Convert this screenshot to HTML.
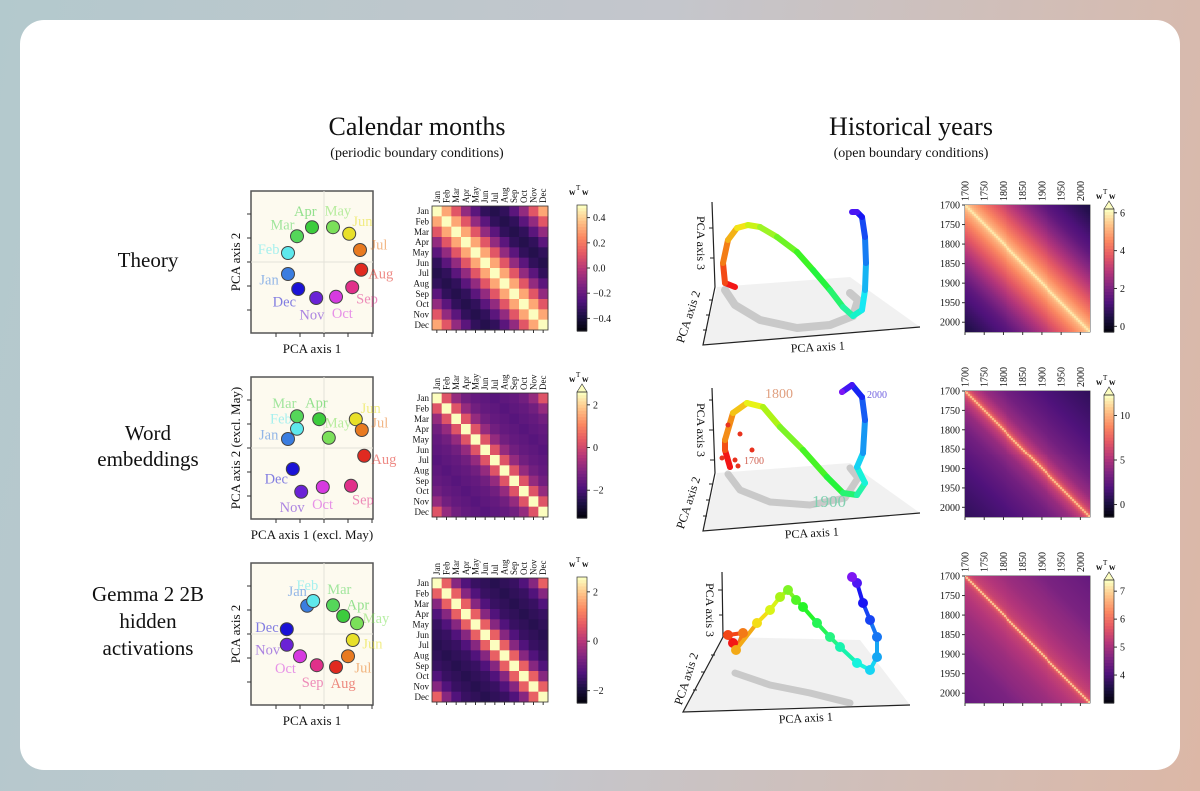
<!DOCTYPE html>
<html><head><meta charset="utf-8">
<style>
html,body{margin:0;padding:0;}
body{width:1200px;height:791px;overflow:hidden;background:linear-gradient(100deg,#b3c9cd 0%,#c4c6cc 50%,#dcb7a6 100%);position:relative;font-family:"Liberation Serif",serif;}
#card{position:absolute;left:20px;top:20px;width:1160px;height:750px;background:#fff;border-radius:24px;}
svg{position:absolute;left:0;top:0;}
canvas{position:absolute;}
</style></head>
<body>
<div id="card"></div>
<svg id="fig" width="1200" height="791" font-family="Liberation Serif, serif"></svg>
<canvas id="yh0" width="125" height="127" style="left:965px;top:205px"></canvas>
<canvas id="yh1" width="125" height="126" style="left:965px;top:391px"></canvas>
<canvas id="yh2" width="125" height="127" style="left:965px;top:576px"></canvas>
<script>
// ---------- DATA ----------
const months = ["Jan","Feb","Mar","Apr","May","Jun","Jul","Aug","Sep","Oct","Nov","Dec"];
const monthColors = ["#3a7de0","#5ee8ec","#55d65a","#3dcc3d","#7be05a","#e8e02a","#e87a20","#e02a20","#e0308a","#d63ae0","#6a22d6","#1a12d6"];
const theoryX = [-0.60,-0.60,-0.45,-0.20,0.15,0.42,0.60,0.62,0.47,0.20,-0.13,-0.43];
const theoryY = [-0.20,0.15,0.43,0.58,0.58,0.47,0.20,-0.13,-0.42,-0.58,-0.60,-0.45];
const embedX = [-0.60,-0.45,-0.45,-0.08,0.08,0.53,0.63,0.67,0.45,-0.02,-0.38,-0.52];
const embedY = [0.15,0.32,0.53,0.48,0.17,0.48,0.30,-0.13,-0.63,-0.65,-0.73,-0.35];
const gemmaX = [-0.28,-0.18,0.15,0.32,0.55,0.48,0.40,0.20,-0.12,-0.40,-0.62,-0.62];
const gemmaY = [0.47,0.55,0.48,0.30,0.18,-0.10,-0.37,-0.55,-0.52,-0.37,-0.18,0.08];
const theoryLag = [0.5,0.32,0.12,-0.08,-0.22,-0.32,-0.35];
const embedLag = [2.9,0.3,-0.8,-1.3,-1.5,-1.6,-1.7];
const gemmaLag = [2.8,0.8,-0.5,-1.2,-1.5,-1.6,-1.7];
const yearLagX = [0,5,10,20,50,100,150,200,300,330];
const yearTheory = [6,5.6,5.3,5.0,4.3,3.3,2.4,1.6,0.7,0.5];
const yearEmbed = [11,8,7,6,4.5,3.3,2.6,2.0,1.2,1.0];
const yearGemma = [7.1,5.9,5.6,5.4,5.2,4.95,4.8,4.6,4.4,4.3];
const yearTicks = [1700,1750,1800,1850,1900,1950,2000];
const traj1X = [5.5,4.5,4.3,4.8,5.7,6.8,8.0,9.7,11.7,13.3,15.0,16.3,17.3,18.2,18.5,18.6,18.5,18.2,17.7,17.2];
const traj1Y = [6.3,6.7,8.7,11.0,12.2,12.5,12.3,11.3,9.8,8.0,6.0,4.3,3.4,4.0,6.0,8.7,11.3,13.3,13.8,13.8];
const shadow1X = [4.5,5.5,8,11.7,15,17.3,17.8,17];
const shadow1Y = [6.0,4.5,3,2.2,2.5,3.4,5,5.7];
const traj2X = [5.0,4.5,4.5,5.3,6.7,8.3,10.0,12.3,14.7,16.3,17.7,18.5,17.7,18.3,18.5,18.2,17.2,16.2];
const traj2Y = [6.9,8.6,9.6,12.3,13.3,12.9,10.9,8.6,5.9,4.3,4.1,5.3,6.9,8.3,11.6,13.9,15.1,14.4];
const extra2X = [6,7.2,5.5,4.8,5.8,4.2];
const extra2Y = [10.2,8.6,7.6,11.1,7.0,7.8];
const shadow2X = [4.8,6,9,13,16.5,17.8,17];
const shadow2Y = [6.2,4.6,3.4,3.1,3.8,5.8,6.8];
const traj3X = [5.3,4.8,6.3,5.6,7.7,9.0,10.0,10.8,11.6,12.3,13.7,15.0,16.0,17.7,19.0,19.7,19.7,19.0,18.3,17.7,17.2];
const traj3Y = [7.7,8.5,8.7,7.0,9.7,11.0,12.3,13.0,12.0,11.3,9.7,8.3,7.3,5.7,5.0,6.3,8.3,10.0,11.7,13.7,14.3];
const shadow3X = [5.5,9,13,17];
const shadow3Y = [4.7,3.5,2.7,1.7];

// ---------- HELPERS ----------
const NS="http://www.w3.org/2000/svg";
const svg=document.getElementById('fig');
function el(tag,attrs,parent){const e=document.createElementNS(NS,tag);for(const k in attrs)e.setAttribute(k,attrs[k]);(parent||svg).appendChild(e);return e;}
function txt(x,y,s,size,attrs,parent){const t=el('text',Object.assign({x:x,y:y,'font-size':size,fill:'#111'},attrs||{}),parent);t.textContent=s;return t;}
const magmaStops=[[0,[0,0,4]],[0.13,[28,16,68]],[0.25,[79,18,123]],[0.38,[129,37,129]],[0.5,[181,54,122]],[0.63,[229,89,100]],[0.75,[251,135,97]],[0.88,[254,194,135]],[1,[252,253,191]]];
function magma(t){t=Math.max(0,Math.min(1,t));for(let i=1;i<magmaStops.length;i++){if(t<=magmaStops[i][0]){const a=magmaStops[i-1],b=magmaStops[i];const f=(t-a[0])/(b[0]-a[0]);const c=a[1].map((v,k)=>Math.round(v+(b[1][k]-v)*f));return `rgb(${c[0]},${c[1]},${c[2]})`;}}return 'rgb(252,253,191)';}
function lerpLag(xs,ys,l){for(let i=1;i<xs.length;i++){if(l<=xs[i]){const f=(l-xs[i-1])/(xs[i]-xs[i-1]);return ys[i-1]+(ys[i]-ys[i-1])*f;}}return ys[ys.length-1];}
function rainbow(f){return `hsl(${Math.round(f*268)},90%,${f>0.3&&f<0.6?55:52}%)`;}

// ---------- TITLES ----------
const g0=el('g',{});  
txt(417,135,'Calendar months',26,{'text-anchor':'middle'},g0);
txt(417,157,'(periodic boundary conditions)',14,{'text-anchor':'middle'},g0);
txt(911,135,'Historical years',26,{'text-anchor':'middle'},g0);
txt(911,157,'(open boundary conditions)',14,{'text-anchor':'middle'},g0);
const rl=el('g',{});  
txt(148,267,'Theory',21,{'text-anchor':'middle'},rl);
txt(148,440,'Word',21,{'text-anchor':'middle'},rl);
txt(148,466,'embeddings',21,{'text-anchor':'middle'},rl);
txt(148,601,'Gemma 2 2B',21,{'text-anchor':'middle'},rl);
txt(148,628,'hidden',21,{'text-anchor':'middle'},rl);
txt(148,655,'activations',21,{'text-anchor':'middle'},rl);

// ---------- PCA SCATTERS ----------
function scatter(top,xs,ys,name,xl,yl){
  const g=el('g',{});  
  const L=251,R=373,T=top,B=top+142, gx=324, gy=top+71;
  const sx=v=>gx+v*60, sy=v=>gy-v*60;
  el('rect',{x:L,y:T,width:R-L,height:B-T,fill:'#fdfaef',stroke:'#555','stroke-width':1.5},g);
  el('line',{x1:gx,y1:T,x2:gx,y2:B,stroke:'#e4e2d8','stroke-width':1},g);
  el('line',{x1:L,y1:gy,x2:R,y2:gy,stroke:'#e4e2d8','stroke-width':1},g);
  for(let k=-2;k<=2;k++){el('line',{x1:L-4,y1:gy+k*24,x2:L,y2:gy+k*24,stroke:'#333'},g);}
  for(let k=-2;k<=2;k++){el('line',{x1:gx+k*24,y1:B,x2:gx+k*24,y2:B+4,stroke:'#333'},g);}
  const a=txt(312,B+20,xl,13,{'text-anchor':'middle'},g); 
  const b=txt(0,0,yl,13,{'text-anchor':'middle',transform:`translate(240,${gy}) rotate(-90)`},g); 
  const mx=xs.reduce((s,v)=>s+v,0)/12, my=ys.reduce((s,v)=>s+v,0)/12;
  for(let i=0;i<12;i++){
    const px=sx(xs[i]),py=sy(ys[i]);
    let dx=xs[i]-mx,dy=-(ys[i]-my);const n=Math.hypot(dx,dy)||1;dx/=n;dy/=n;
    const lt=txt(px+dx*20,py+dy*17+5,months[i],14.5,{'text-anchor':'middle',fill:monthColors[i],'fill-opacity':0.55},g);
    
    const c=el('circle',{cx:px,cy:py,r:6.5,fill:monthColors[i],stroke:'#444','stroke-width':1},g);
    
  }
}
scatter(191,theoryX,theoryY,'theory-pca-scatter','PCA axis 1','PCA axis 2');
scatter(377,embedX,embedY,'embeddings-pca-scatter','PCA axis 1 (excl. May)','PCA axis 2 (excl. May)');
scatter(563,gemmaX,gemmaY,'gemma-pca-scatter','PCA axis 1','PCA axis 2');

// ---------- MONTH HEATMAPS ----------
function colorbar(x,top,bot,vmin,vmax,ticks,name,extend,dec){
  const g=el('g',{});  
  const h=bot-top, n=40;
  for(let k=0;k<n;k++){el('rect',{x:x,y:top+h*k/n,width:10,height:h/n+0.6,fill:magma(1-k/n)},g);}
  if(extend){el('polygon',{points:`${x},${top} ${x+5},${top-8} ${x+10},${top}`,fill:magma(1),stroke:'#333','stroke-width':0.6},g);}
  el('rect',{x:x,y:top,width:10,height:h,fill:'none',stroke:'#333','stroke-width':0.7},g);
  ticks.forEach(v=>{const y=bot-(v-vmin)/(vmax-vmin)*h;el('line',{x1:x+10,y1:y,x2:x+13,y2:y,stroke:'#333'},g);
    const s=dec?Math.abs(v).toFixed(1):String(Math.abs(v));
    txt(x+16,y+3.5,(v<0?'\u2212'+s:s),10,{},g);});
  const t=txt(x-8,top-10,'w',9,{'font-weight':'bold'},g); 
  const t2=el('text',{x:x-1,y:top-15,'font-size':7},g); t2.textContent='T';
  txt(x+5,top-10,'w',9,{'font-weight':'bold'},g);
}
function monthHeat(top,lag,vmin,vmax,ticks,name,ext,dec){
  const g=el('g',{});  
  const L=432,W=116,H=124,cw=W/12,ch=H/12;
  for(let i=0;i<12;i++)for(let j=0;j<12;j++){
    const d=Math.min(Math.abs(i-j),12-Math.abs(i-j));
    const r=el('rect',{x:L+j*cw,y:top+i*ch,width:cw+0.4,height:ch+0.4,fill:magma((lag[d]-vmin)/(vmax-vmin))},g);
    
  }
  el('rect',{x:L,y:top,width:W,height:H,fill:'none',stroke:'#333','stroke-width':0.8},g);
  for(let i=0;i<12;i++){
    txt(L-3,top+i*ch+ch/2+3,months[i],9,{'text-anchor':'end'},g);
    txt(0,0,months[i],9,{transform:`translate(${L+i*cw+cw/2+3},${top-3}) rotate(-90)`},g);
    el('line',{x1:L+i*cw+cw/2,y1:top+H,x2:L+i*cw+cw/2,y2:top+H+3,stroke:'#333'},g);
  }
  colorbar(577,top-1,top+H+1,vmin,vmax,ticks,name+'-colorbar',ext,dec);
}
monthHeat(206,theoryLag,-0.5,0.5,[0.4,0.2,0.0,-0.2,-0.4],'theory-month-heatmap',false,true);
monthHeat(393,embedLag,-3.3,2.6,[2,0,-2],'embeddings-month-heatmap',true,false);
monthHeat(578,gemmaLag,-2.5,2.6,[2,0,-2],'gemma-month-heatmap',false,false);

// ---------- YEAR HEATMAPS ----------
function yearHeat(id,top,lagY,vmin,vmax,ticks,name){
  const cv=document.getElementById(id),ctx=cv.getContext('2d');
  const W=cv.width,H=cv.height,n=64,span=325;
  for(let i=0;i<n;i++)for(let j=0;j<n;j++){
    const l=Math.abs(i-j)*span/n;
    ctx.fillStyle=magma((lerpLag(yearLagX,lagY,l)-vmin)/(vmax-vmin));
    ctx.fillRect(Math.floor(j*W/n),Math.floor(i*H/n),Math.ceil(W/n)+1,Math.ceil(H/n)+1);
  }
  const g=el('g',{});  
  el('rect',{x:965,y:top,width:W,height:H,fill:'none',stroke:'#333','stroke-width':0.8},g);
  yearTicks.forEach(yv=>{
    const off=(yv-1700)/span*W, offy=(yv-1700)/span*H;
    txt(960,top+offy+3.5,String(yv),10,{'text-anchor':'end'},g);
    el('line',{x1:962,y1:top+offy,x2:965,y2:top+offy,stroke:'#333'},g);
    txt(0,0,String(yv),10,{transform:`translate(${965+off+3.5},${top-4}) rotate(-90)`},g);
    el('line',{x1:965+off,y1:top+H,x2:965+off,y2:top+H+3,stroke:'#333'},g);
  });
  colorbar(1104,top+4,top+H,vmin,vmax,ticks,name+'-colorbar',true,false);
}
yearHeat('yh0',205,yearTheory,-0.3,6.2,[6,4,2,0],'theory-year-heatmap');
yearHeat('yh1',391,yearEmbed,-1.4,12.3,[10,5,0],'embeddings-year-heatmap');
yearHeat('yh2',576,yearGemma,3.0,7.4,[7,6,5,4],'gemma-year-heatmap');

// ---------- 3D PLOTS ----------
function plot3d(oy,tx,ty,shx,shy,exx,exy,dot,name,ax){
  const g=el('g',{});  
  const sx=v=>680+v*10, sy=v=>oy-v*10;
  el('polygon',{points:ax.floor,fill:'#eeeeee','fill-opacity':0.8},g);
  el('polyline',{points:ax.axes,fill:'none',stroke:'#222','stroke-width':1.2},g);
  ax.ticks.forEach(p=>el('line',{x1:p[0],y1:p[1],x2:p[0]-4,y2:p[1],stroke:'#222'},g));
  const sp=shx.map((v,i)=>sx(v)+','+sy(shy[i])).join(' ');
  el('polyline',{points:sp,fill:'none',stroke:'#999','stroke-opacity':0.45,'stroke-width':dot?7:8,'stroke-linecap':'round','stroke-linejoin':'round'},g);
  const n=tx.length;
  for(let i=0;i<n-1;i++){
    const s=el('line',{x1:sx(tx[i]),y1:sy(ty[i]),x2:sx(tx[i+1]),y2:sy(ty[i+1]),stroke:rainbow(i/(n-1)),'stroke-width':dot?(dot>4?4:6):6,'stroke-linecap':'round'},g);
    
  }
  if(dot){
    for(let i=0;i<n;i++){const c=el('circle',{cx:sx(tx[i]),cy:sy(ty[i]),r:dot,fill:rainbow(i/(n-1))},g);}
    for(let i=0;i<exx.length;i++){const c=el('circle',{cx:sx(exx[i]),cy:sy(exy[i]),r:2.5,fill:'#e8321e'},g);}
  }
  txt(0,0,'PCA axis 3',12,{'text-anchor':'middle',transform:`translate(${ax.l3[0]},${ax.l3[1]}) rotate(90)`},g);
  txt(0,0,'PCA axis 2',12,{'text-anchor':'middle',transform:`translate(${ax.l2[0]},${ax.l2[1]}) rotate(-72)`},g);
  txt(ax.l1[0],ax.l1[1],'PCA axis 1',12,{'text-anchor':'middle',transform:`rotate(-3 ${ax.l1[0]} ${ax.l1[1]})`},g);
  return g;
}
plot3d(350,traj1X,traj1Y,shadow1X,shadow1Y,[],[],0,'theory-3d-trajectory',{
  floor:'717,287 850,277 920,327 703,345',axes:'712,202 715,287 703,345 920,327',
  ticks:[[713,228],[714,258],[713,300],[710,315],[707,330]],l3:[697,243],l2:[692,318],l1:[818,351]});
const g2=plot3d(536,traj2X,traj2Y,shadow2X,shadow2Y,extra2X,extra2Y,3,'embeddings-3d-trajectory',{
  floor:'717,473 850,463 920,513 703,531',axes:'712,388 715,473 703,531 920,513',
  ticks:[[713,400],[713,430],[714,460],[713,484],[710,500],[707,516]],l3:[697,430],l2:[692,504],l1:[812,537]});
txt(765,398,'1800',14,{fill:'#e0a080'},g2);
txt(744,464,'1700',10,{fill:'#d06050'},g2);
txt(812,507,'1900',17,{fill:'#80d0b0'},g2);
txt(867,398,'2000',10,{fill:'#7060e0'},g2);
plot3d(720,traj3X,traj3Y,shadow3X,shadow3Y,[],[],5,'gemma-3d-trajectory',{
  floor:'722,637 860,640 910,705 683,712',axes:'722,572 723,637 683,712 910,705',
  ticks:[[722,590],[723,615],[715,655],[705,672],[697,690]],l3:[706,610],l2:[690,680],l1:[806,722]});
</script>
</body></html>
